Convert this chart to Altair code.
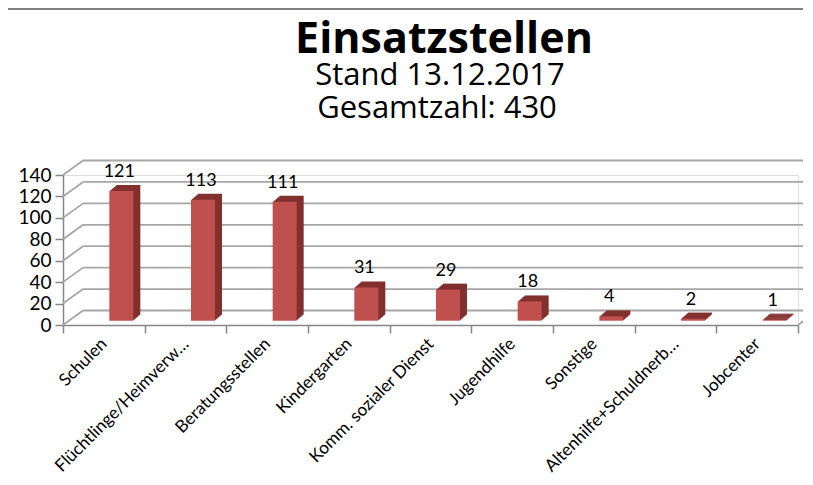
import altair as alt
import pandas as pd

title_text = "Einsatzstellen"
subtitle_lines = ["Stand 13.12.2017", "Gesamtzahl: 430"]
categories = ["Schulen", "Flüchtlinge/Heimverw…", "Beratungsstellen", "Kindergarten",
              "Komm. sozialer Dienst", "Jugendhilfe", "Sonstige",
              "Altenhilfe+Schuldnerb…", "Jobcenter"]
values = [121, 113, 111, 31, 29, 18, 4, 2, 1]
y_ticks = [0, 20, 40, 60, 80, 100, 120, 140]

bars_df = pd.DataFrame({"cat": categories, "value": values})
grid_df = pd.DataFrame({"v": y_ticks})

W, H = 735, 150
DX, DY = 20, -14.5          # depth of the 3D wall
BX, BY = 17.5, -4.3         # bar position inside the depth
EX, EY = 7, -6              # bar extrusion

LABEL_FONT = "Lato"
TITLE_FONT = "Open Sans"
FRONT = "#C0504D"
SIDE = "#82302E"
GRID = "#A6A6A6"
AXIS = "#868686"

x_axis = alt.Axis(title=None, labelAngle=-45, labelAlign="right", labelBaseline="middle",
                  labelFont=LABEL_FONT, labelFontSize=17.2, labelColor="black",
                  tickBand="extent", tickSize=8, tickColor=AXIS, tickWidth=1.5,
                  domainColor=AXIS, domainWidth=1.5, labelPadding=8,
                  labelOverlap=False, labelLimit=400, labelBound=False)
y_axis = alt.Axis(title=None, values=y_ticks, labelFont=LABEL_FONT, labelFontSize=19,
                  labelColor="black", tickSize=8, tickColor=AXIS, tickWidth=1.5,
                  domainColor=AXIS, domainWidth=1.5, labelPadding=4, grid=False)

x_scale = alt.Scale(domain=categories, paddingInner=0, paddingOuter=0)
y_scale = alt.Scale(domain=[0, 140], nice=False)

X = alt.X("cat:N", scale=x_scale, axis=x_axis, sort=categories)
Y = alt.Y("value:Q", scale=y_scale, axis=y_axis)

# back wall gridlines
back = alt.Chart(grid_df).mark_rule(color=GRID, strokeWidth=1.8, yOffset=DY).encode(
    x=alt.value(DX), x2=alt.value(W + 60),
    y=alt.Y("v:Q", scale=y_scale, axis=y_axis),
)
# side wall slants
side = alt.Chart(grid_df).mark_rule(color=GRID, strokeWidth=1.8, y2Offset=DY).encode(
    x=alt.value(0), x2=alt.value(DX),
    y=alt.Y("v:Q", scale=y_scale, axis=y_axis), y2=alt.Y2("v"),
)
# floor right edge
floor_edge = alt.Chart(pd.DataFrame({"v": [0]})).mark_rule(color=GRID, strokeWidth=1.8, y2Offset=DY).encode(
    x=alt.value(W), x2=alt.value(W + DX),
    y=alt.Y("v:Q", scale=y_scale, axis=y_axis), y2=alt.Y2("v"),
)

layers = [back, side, floor_edge]
steps = 8
for k in range(steps, 0, -1):
    ox = BX + EX * k / steps
    oy = BY + EY * k / steps
    layers.append(
        alt.Chart(bars_df).mark_bar(size=24, color=SIDE, xOffset=ox, yOffset=oy, y2Offset=oy).encode(x=X, y=Y)
    )
front = alt.Chart(bars_df).mark_bar(size=24, color=FRONT, xOffset=BX, yOffset=BY, y2Offset=BY).encode(x=X, y=Y)
labels = alt.Chart(bars_df).mark_text(font=LABEL_FONT, fontSize=18, color="black", baseline="bottom",
                                      xOffset=BX - 2, yOffset=BY + EY - 4).encode(
    x=X, y=Y, text=alt.Text("value:Q"))

one = pd.DataFrame({"a": [0]})
topline = alt.Chart(one).mark_rule(color="#808080", strokeWidth=2).encode(
    x=alt.value(-55), x2=alt.value(W + 10), y=alt.value(-166), y2=alt.value(-166))
title_mark = alt.Chart(one).mark_text(font=TITLE_FONT, fontSize=43, fontWeight="bold", color="black",
                                      baseline="alphabetic", align="center").encode(
    x=alt.value(381), y=alt.value(-122), text=alt.value(title_text))
sub1 = alt.Chart(one).mark_text(font=TITLE_FONT, fontSize=31, color="black",
                                baseline="alphabetic", align="center").encode(
    x=alt.value(377), y=alt.value(-90), text=alt.value(subtitle_lines[0]))
sub2 = alt.Chart(one).mark_text(font=TITLE_FONT, fontSize=31, color="black",
                                baseline="alphabetic", align="center").encode(
    x=alt.value(374), y=alt.value(-57), text=alt.value(subtitle_lines[1]))

layers += [front, labels, topline, title_mark, sub1, sub2]

chart = alt.layer(*layers).properties(
    width=W, height=H,
    autosize="none",
    padding={"left": 55, "top": 167, "right": 5, "bottom": 150},
).configure_view(stroke=None).configure(background="white")

chart.save("out.html", embed_options={"renderer": "svg", "actions": False})
